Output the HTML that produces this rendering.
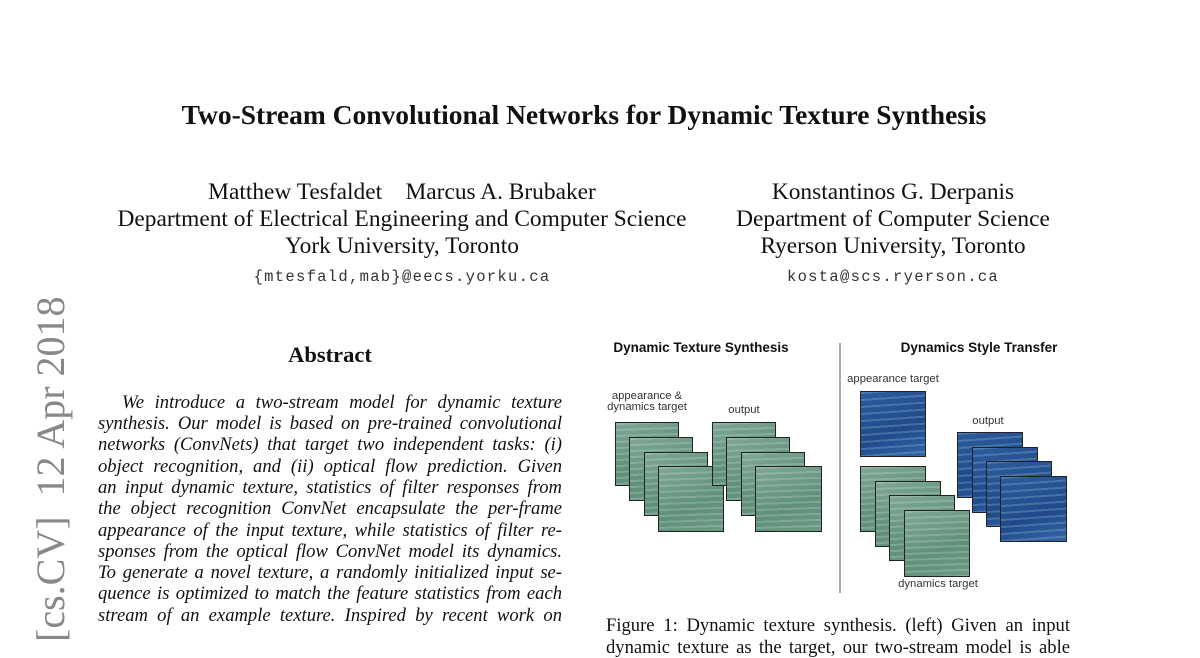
<!DOCTYPE html>
<html><head><meta charset="utf-8"><style>
body{margin:0;width:1200px;height:648px;background:#fff;position:relative;overflow:hidden;font-family:"Liberation Serif",serif;color:#111}
.a{position:absolute;white-space:nowrap}
.c{position:absolute;text-align:center;white-space:nowrap}
.ln{position:absolute;left:98px;width:464px;font-style:italic;font-size:18.6px;text-align:justify;text-align-last:justify;white-space:nowrap;height:21px;line-height:21px}
.s{font-family:"Liberation Sans",sans-serif;font-size:11.3px;color:#333}
.f{position:absolute;width:64px;height:64px;border:1.5px solid #222;box-sizing:border-box;
background:repeating-linear-gradient(178deg,rgba(255,255,255,.18) 0 2px,rgba(0,0,0,0) 2px 6px),linear-gradient(160deg,#7fa796,#5f9079 60%,#6c9a85)}
.b{position:absolute;width:66px;height:66px;border:1.5px solid #222;box-sizing:border-box;
background:repeating-linear-gradient(176deg,rgba(180,210,230,.25) 0 2px,rgba(0,0,0,0) 2px 7px),linear-gradient(160deg,#2c5c9c,#1f4a8a 60%,#3366a8)}
.m{font-family:'Liberation Mono',monospace;font-size:15.5px;letter-spacing:1.3px;color:#333}
</style></head><body>
<div class="c" style="left:0;width:1168px;top:99px;font-size:27.5px;font-weight:bold">Two-Stream Convolutional Networks for Dynamic Texture Synthesis</div>

<div class="c" style="left:102px;width:600px;top:179px;font-size:23.4px;line-height:27px">Matthew Tesfaldet&nbsp;&nbsp;&nbsp;&nbsp;Marcus A. Brubaker<br>Department of Electrical Engineering and Computer Science<br>York University, Toronto</div>
<div class="c m" style="left:102px;width:600px;top:268px">{mtesfald,mab}@eecs.yorku.ca</div>

<div class="c" style="left:693px;width:400px;top:179px;font-size:23.4px;line-height:27px">Konstantinos G. Derpanis<br>Department of Computer Science<br>Ryerson University, Toronto</div>
<div class="c m" style="left:693px;width:400px;top:268px">kosta@scs.ryerson.ca</div>

<div class="a" style="left:30px;top:642px;transform:rotate(-90deg);transform-origin:0 0;font-size:40px;color:#888;line-height:42px">[cs.CV]&nbsp;&nbsp;12 Apr 2018</div>

<div class="c" style="left:230px;width:200px;top:342px;font-size:22.5px;font-weight:bold">Abstract</div>
<div class="ln" style="top:392px;left:122px;width:440px">We introduce a two-stream model for dynamic texture</div>
<div class="ln" style="top:413px">synthesis. Our model is based on pre-trained convolutional</div>
<div class="ln" style="top:434px">networks (ConvNets) that target two independent tasks: (i)</div>
<div class="ln" style="top:456px">object recognition, and (ii) optical flow prediction. Given</div>
<div class="ln" style="top:477px">an input dynamic texture, statistics of filter responses from</div>
<div class="ln" style="top:498px">the object recognition ConvNet encapsulate the per-frame</div>
<div class="ln" style="top:520px">appearance of the input texture, while statistics of filter re-</div>
<div class="ln" style="top:541px">sponses from the optical flow ConvNet model its dynamics.</div>
<div class="ln" style="top:562px">To generate a novel texture, a randomly initialized input se-</div>
<div class="ln" style="top:583px">quence is optimized to match the feature statistics from each</div>
<div class="ln" style="top:605px">stream of an example texture. Inspired by recent work on</div>

<!-- figure -->
<div class="c" style="left:601px;width:200px;top:340px;font-family:'Liberation Sans',sans-serif;font-weight:bold;font-size:13.5px">Dynamic Texture Synthesis</div>
<div class="c" style="left:879px;width:200px;top:340px;font-family:'Liberation Sans',sans-serif;font-weight:bold;font-size:13.5px">Dynamics Style Transfer</div>
<div class="a" style="left:839px;top:343px;width:2px;height:250px;background:#aaa"></div>

<div class="c s" style="left:597px;width:100px;top:391px;line-height:11px">appearance &amp;<br>dynamics target</div>
<div class="c s" style="left:714px;width:60px;top:404px">output</div>
<div class="f" style="left:615px;top:422px"></div>
<div class="f" style="left:629px;top:437px"></div>
<div class="f" style="left:644px;top:452px"></div>
<div class="f" style="left:658px;top:466px;width:66px;height:66px"></div>
<div class="f" style="left:712px;top:422px"></div>
<div class="f" style="left:726px;top:437px"></div>
<div class="f" style="left:741px;top:452px"></div>
<div class="f" style="left:755px;top:466px;width:67px;height:66px"></div>

<div class="c s" style="left:843px;width:100px;top:373px">appearance target</div>
<div class="b" style="left:860px;top:391px"></div>
<div class="c s" style="left:958px;width:60px;top:415px">output</div>
<div class="f" style="left:860px;top:466px;width:66px;height:66px"></div>
<div class="f" style="left:875px;top:481px;width:66px;height:66px"></div>
<div class="f" style="left:889px;top:495px;width:66px;height:66px"></div>
<div class="f" style="left:904px;top:510px;width:66px;height:67px"></div>
<div class="b" style="left:957px;top:432px"></div>
<div class="b" style="left:972px;top:447px"></div>
<div class="b" style="left:986px;top:461px"></div>
<div class="b" style="left:1000px;top:476px;width:67px"></div>
<div class="c s" style="left:888px;width:100px;top:578px">dynamics target</div>

<div class="ln" style="left:606px;width:464px;top:615px;font-style:normal">Figure 1: Dynamic texture synthesis. (left) Given an input</div>
<div class="ln" style="left:606px;width:464px;top:637px;font-style:normal">dynamic texture as the target, our two-stream model is able</div>
</body></html>
